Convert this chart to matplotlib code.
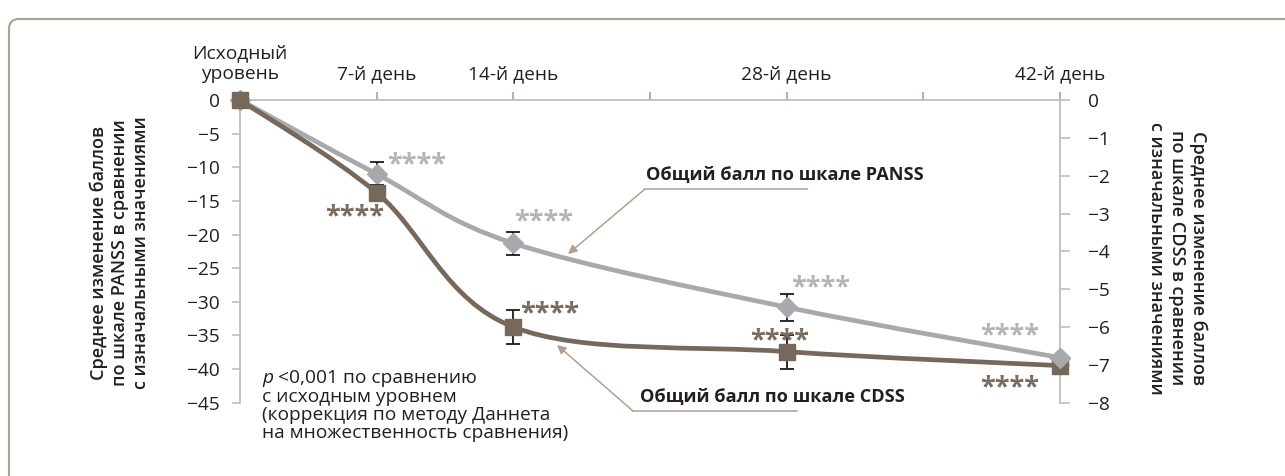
import numpy as np
import matplotlib
matplotlib.use("Agg")
import matplotlib.pyplot as plt
from matplotlib.path import Path
from matplotlib.patches import PathPatch, FancyBboxPatch, FancyArrowPatch
from matplotlib.lines import Line2D
from matplotlib.transforms import IdentityTransform

plt.rcParams["font.family"] = ["Open Sans", "DejaVu Sans"]

# ---- data -------------------------------------------------------------
days = [0, 7, 14, 28, 42]
day_ticks = [0, 7, 14, 21, 28, 35, 42]
day_labels = ["Исходный\nуровень", "7-й день", "14-й день", "", "28-й день", "", "42-й день"]

panss_change = [0, -11.0, -21.3, -30.8, -38.3]
panss_err = [0, 1.8, 1.7, 2.0, 0]
cdss_change = [0, -2.45, -6.0, -6.65, -7.02]
cdss_err = [0, 0.2, 0.46, 0.45, 0]

panss_ticks = list(range(-45, 1, 5))
cdss_ticks = list(range(-8, 1))

panss_label = "Общий балл по шкале PANSS"
cdss_label = "Общий балл по шкале CDSS"
left_title = "Среднее изменение баллов\nпо шкале PANSS в сравнении\nс изначальными значениями"
right_title = "Среднее изменение баллов\nпо шкале CDSS в сравнении\nс изначальными значениями"
note_p = "p"
note_first = " <0,001 по сравнению"
note_lines = ["с исходным уровнем",
              "(коррекция по методу Даннета",
              "на множественность сравнения)"]
stars = "****"

# ---- style ------------------------------------------------------------
W, H = 1285, 476
GREY = "#a7a9ac"
BROWN = "#76695c"
STAR_GREY = "#b3b5b8"
STAR_BROWN = "#7a6d60"
AXIS = "#bfbfbf"
TAN = "#b39e8f"
TEXT = "#231f20"
TICK_FS = 13.8


def fpx(x, y):
    """Top-left pixel position -> figure fraction."""
    return x / W, 1 - y / H


def smooth_path(xs, ys):
    """Cubic Bezier path through the points (Catmull-Rom style tangents)."""
    pts = np.column_stack([xs, ys]).astype(float)
    ext = np.vstack([pts[0], pts, pts[-1]])
    verts = [pts[0]]
    codes = [Path.MOVETO]
    for i in range(len(pts) - 1):
        p0, p1, p2, p3 = ext[i], ext[i + 1], ext[i + 2], ext[i + 3]
        verts += [p1 + (p2 - p0) / 6, p2 - (p3 - p1) / 6, p2]
        codes += [Path.CURVE4] * 3
    return Path(verts, codes)


fig = plt.figure(figsize=(W / 100, H / 100), dpi=100)

# rounded frame (only top and left edges fall inside the canvas)
frame = FancyBboxPatch((9, -40), 1330, H - 10 + 40 - 9,
                       boxstyle="round,pad=0,rounding_size=10",
                       transform=IdentityTransform(), fill=False,
                       ec=TAN, lw=1.5)
fig.add_artist(frame)

x0, x1 = 240, 1060
y0, y1 = 100, 402.7
ax = fig.add_axes([x0 / W, 1 - y1 / H, (x1 - x0) / W, (y1 - y0) / H])
ax.patch.set_alpha(0)
ax.set_xlim(0, 42)
ax.set_ylim(-45, 0)

for s in ("bottom", "right"):
    ax.spines[s].set_visible(False)
ax.spines["left"].set_color(AXIS)
ax.spines["left"].set_linewidth(1.3)
ax.spines["top"].set_color("#c8bdb6")
ax.spines["top"].set_linewidth(1.3)

ax.xaxis.tick_top()
ax.set_xticks(day_ticks)
ax.set_xticklabels(day_labels, color=TEXT)
ax.tick_params(axis="x", direction="out", length=6, width=1.2, color=TAN,
               labelsize=TICK_FS, pad=6)
ax.set_yticks(panss_ticks)
ax.tick_params(axis="y", direction="out", length=5.5, width=1.2, color=AXIS,
               labelsize=TICK_FS, labelcolor=TEXT, pad=9)

# PANSS series (left axis)
ax.add_patch(PathPatch(smooth_path(days, panss_change), fc="none", ec=GREY,
                       lw=3.4, zorder=2, clip_on=False))
m = [i for i, e in enumerate(panss_err) if e > 0]
ax.errorbar([days[i] for i in m], [panss_change[i] for i in m],
            yerr=[panss_err[i] for i in m], fmt="none", ecolor="#1a1a1a",
            elinewidth=1.3, capsize=5, capthick=1.3, zorder=3)
ax.plot(days, panss_change, ls="none", marker="D", ms=10, color=GREY,
        mec=GREY, zorder=4, clip_on=False)

# CDSS series (right axis)
ax2 = ax.twinx()
ax2.set_ylim(-8, 0)
for s in ("bottom", "left", "top"):
    ax2.spines[s].set_visible(False)
ax2.spines["right"].set_color(AXIS)
ax2.spines["right"].set_linewidth(1.3)
ax2.set_yticks(cdss_ticks)
ax2.tick_params(axis="y", direction="out", length=7, width=1.2, color=AXIS,
                labelsize=TICK_FS, labelcolor=TEXT, pad=13)

ax2.add_patch(PathPatch(smooth_path(days, cdss_change), fc="none", ec=BROWN,
                        lw=3.4, zorder=2, clip_on=False))
m = [i for i, e in enumerate(cdss_err) if e > 0]
ax2.errorbar([days[i] for i in m], [cdss_change[i] for i in m],
             yerr=[cdss_err[i] for i in m], fmt="none", ecolor="#1a1a1a",
             elinewidth=1.3, capsize=5, capthick=1.3, zorder=3)
ax2.plot(days, cdss_change, ls="none", marker="s", ms=12, color=BROWN,
         mec=BROWN, zorder=4, clip_on=False)
# last PANSS marker sits above the CDSS square
ax2.plot(days[-1:], panss_change[-1:], ls="none", marker="D", ms=10,
         color=GREY, mec=GREY, zorder=5, clip_on=False,
         transform=ax.transData)

# significance stars
star_kw = dict(fontsize=19.5, fontweight="bold", ha="center", va="baseline")
grey_star_pos = [(417, 171), (544, 228), (821, 294), (1010, 342)]
brown_star_pos = [(355, 223), (550, 320), (780, 347), (1010, 394)]
for (x, y) in grey_star_pos:
    fig.text(*fpx(x, y), stars, color=STAR_GREY, **star_kw)
for (x, y) in brown_star_pos:
    fig.text(*fpx(x, y), stars, color=STAR_BROWN, **star_kw)

# series labels with leader lines
lab_kw = dict(fontsize=13.1, fontweight="bold", color=TEXT, va="center", ha="left")
fig.text(*fpx(646, 175), panss_label, **lab_kw)
fig.text(*fpx(640, 397), cdss_label, **lab_kw)

for (ux0, ux1, uy), tip in [((645, 807, 189), (568, 254)),
                            ((633, 797, 411), (557, 345))]:
    fig.add_artist(Line2D([ux0 / W, ux1 / W], [1 - uy / H, 1 - uy / H],
                          transform=fig.transFigure, color=TAN, lw=1.1))
    fig.add_artist(FancyArrowPatch(fpx(ux0, uy), fpx(*tip),
                                   transform=fig.transFigure,
                                   arrowstyle="-|>", mutation_scale=13,
                                   color=TAN, lw=1.1, shrinkA=0, shrinkB=0))

# axis titles
title_kw = dict(fontsize=13, fontweight="semibold", color=TEXT, ha="center",
                va="center", multialignment="center", linespacing=1.22)
fig.text(*fpx(120, 253), left_title, rotation=90, **title_kw)
fig.text(*fpx(1177, 258), right_title, rotation=270, **title_kw)

# footnote, one baseline per line
note_kw = dict(fontsize=13.8, color=TEXT, va="baseline", ha="left")
base_y = [383, 401.5, 420, 438.5]
tp = fig.text(*fpx(262, base_y[0]), note_p, style="italic", **note_kw)
fig.canvas.draw()
bb = tp.get_window_extent(fig.canvas.get_renderer())
fig.text(bb.x1 / W, 1 - base_y[0] / H, note_first, **note_kw)
for line, y in zip(note_lines, base_y[1:]):
    fig.text(*fpx(262, y), line, **note_kw)

fig.savefig("out.png", dpi=100)
